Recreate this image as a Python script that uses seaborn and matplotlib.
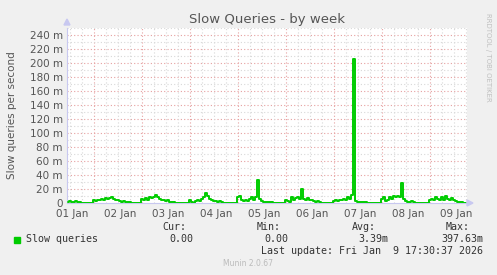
import numpy as np
import pandas as pd
import matplotlib
matplotlib.use("Agg")
import matplotlib.pyplot as plt
import seaborn as sns

# ---- data (values in milli-queries per second, hourly, hours since 01 Jan 00:00)
day_labels = ["01 Jan", "02 Jan", "03 Jan", "04 Jan", "05 Jan", "06 Jan", "07 Jan", "08 Jan", "09 Jan"]
day1 = [2, 3, 2, 2, 3, 2, 1, 0, 0, 0, 0, 0, 0]                       # hours 11-23
day2 = [4, 3, 5, 4, 6, 5, 7, 6, 7, 8, 6, 5, 4, 3, 2, 3, 2, 2, 1, 0, 0, 0, 0, 0]
day3 = [6, 4, 7, 5, 8, 7, 9, 11, 8, 6, 5, 4, 3, 4, 2, 2, 1, 0, 0, 0, 0, 0, 0, 0]
day4 = [5, 1, 0, 3, 4, 3, 6, 8, 15, 10, 6, 4, 3, 3, 2, 3, 2, 0, 0, 0, 0, 0, 0, 0]
day5 = [8, 10, 4, 3, 5, 3, 6, 8, 5, 9, 33, 6, 3, 2, 2, 2, 1, 1, 0, 0, 0, 0, 0, 0]
day6 = [5, 3, 2, 8, 4, 7, 9, 6, 20, 6, 5, 7, 4, 5, 3, 2, 3, 1, 0, 0, 0, 0, 0, 0]
day7 = [3, 4, 3, 5, 4, 6, 5, 8, 6, 12, 206, 3, 2, 2, 2, 2, 2, 0, 0, 0, 0, 0, 0, 0]
day8 = [6, 8, 3, 5, 8, 6, 10, 9, 10, 8, 28, 6, 3, 2, 2, 3, 1, 0, 0, 0, 0, 0, 0, 0]
day9 = [4, 6, 5, 9, 6, 5, 8, 5, 10, 6, 5, 7, 4, 3, 2, 2, 1, 0, 0]    # hours 0-18
start_hour = 11

values = day1 + day2 + day3 + day4 + day5 + day6 + day7 + day8 + day9
hours = np.arange(start_hour, start_hour + len(values))
df = pd.DataFrame({"hour": hours, "value": values})

legend_name = "Slow queries"
cur_v, min_v, avg_v, max_v = "0.00", "0.00", "3.39m", "397.63m"
last_update = "Last update: Fri Jan  9 17:30:37 2026"

# ---- figure
sns.set_style("white")
plt.rcParams["font.family"] = ["DejaVu Sans"]
W, H = 497, 275
fig = plt.figure(figsize=(W / 100, H / 100), dpi=100, facecolor="#F0F0F0")
ax = fig.add_axes([67 / W, (H - 203) / H, 400 / W, 175 / H])
ax.set_facecolor("white")

x0, x1 = 10.5, 210.5
ax.set_xlim(x0, x1)
ax.set_ylim(0, 250)

# grid
minor_x = [h for h in np.arange(0, 216, 6) if h % 24 != 0 and x0 < h < x1]
ax.set_xticks(minor_x, minor=True)
ax.set_yticks(np.arange(10, 260, 20), minor=True)
ax.grid(which="minor", color="#D8D8D8", linestyle=(0, (1, 2)), linewidth=0.8)
for d in range(1, 9):
    ax.axvline(d * 24, color="#E6A0A0", linestyle=(0, (1, 2)), linewidth=0.8, zorder=0.5)
yt = np.arange(0, 241, 20)
for v in yt[1:]:
    ax.axhline(v, color="#E6A0A0", linestyle=(0, (1, 2)), linewidth=0.8, zorder=0.5)

sns.lineplot(data=df, x="hour", y="value", ax=ax, color="#00CC00",
             linewidth=1.4, drawstyle="steps-mid", zorder=3)

ax.set_xticks(np.arange(12, 216, 24) + 1, labels=day_labels)
ax.set_yticks(yt, labels=["0"] + [f"{v} m" for v in yt[1:]])
ax.tick_params(axis="both", which="both", length=0, labelsize=7.5, colors="#555555", pad=3)
ax.tick_params(axis="x", pad=4)
ax.set_xlabel("")
ax.set_ylabel("Slow queries per second", fontsize=7.5, color="#555555", labelpad=9)

for s in ["top", "right"]:
    ax.spines[s].set_visible(False)
ax.spines["left"].set_color("#C8C8F0")
ax.spines["bottom"].set_color("#C8C8F0")
ax.spines["left"].set_linewidth(0.8)
ax.spines["bottom"].set_linewidth(0.8)

# axis arrows
fig.patches.append(plt.Polygon([[64 / W, 1 - 25 / H], [70 / W, 1 - 25 / H], [67 / W, 1 - 19 / H]],
                               closed=True, transform=fig.transFigure, color="#C8C8F0"))
fig.patches.append(plt.Polygon([[467 / W, 1 - 200 / H], [467 / W, 1 - 206 / H], [473 / W, 1 - 203 / H]],
                               closed=True, transform=fig.transFigure, color="#C8C8F0"))

fig.text(267 / W, 1 - 19 / H, "Slow Queries - by week", ha="center", va="center",
         fontsize=9.5, color="#555555")
fig.text(488 / W, 1 - 57 / H, "RRDTOOL / TOBI OETIKER", rotation=270, ha="center", va="center",
         fontsize=5.0, color="#C0C0C0")

mono = dict(family="DejaVu Sans Mono", fontsize=7.2, color="#333333", va="center")
fig.text(186 / W, 1 - 227 / H, "Cur:", ha="right", **mono)
fig.text(281 / W, 1 - 227 / H, "Min:", ha="right", **mono)
fig.text(376 / W, 1 - 227 / H, "Avg:", ha="right", **mono)
fig.text(470 / W, 1 - 227 / H, "Max:", ha="right", **mono)
fig.patches.append(plt.Rectangle((14 / W, 1 - 243 / H), 6 / W, 6 / H, transform=fig.transFigure,
                                 color="#00CC00"))
fig.text(26 / W, 1 - 239 / H, legend_name, ha="left", **mono)
fig.text(193 / W, 1 - 239 / H, cur_v, ha="right", **mono)
fig.text(288 / W, 1 - 239 / H, min_v, ha="right", **mono)
fig.text(388 / W, 1 - 239 / H, avg_v, ha="right", **mono)
fig.text(483 / W, 1 - 239 / H, max_v, ha="right", **mono)
fig.text(483 / W, 1 - 251 / H, last_update, ha="right", **mono)
fig.text(248 / W, 1 - 264 / H, "Munin 2.0.67", ha="center", va="center", fontsize=5.5, color="#BBBBBB")

fig.savefig("out.png", dpi=100, facecolor=fig.get_facecolor())
